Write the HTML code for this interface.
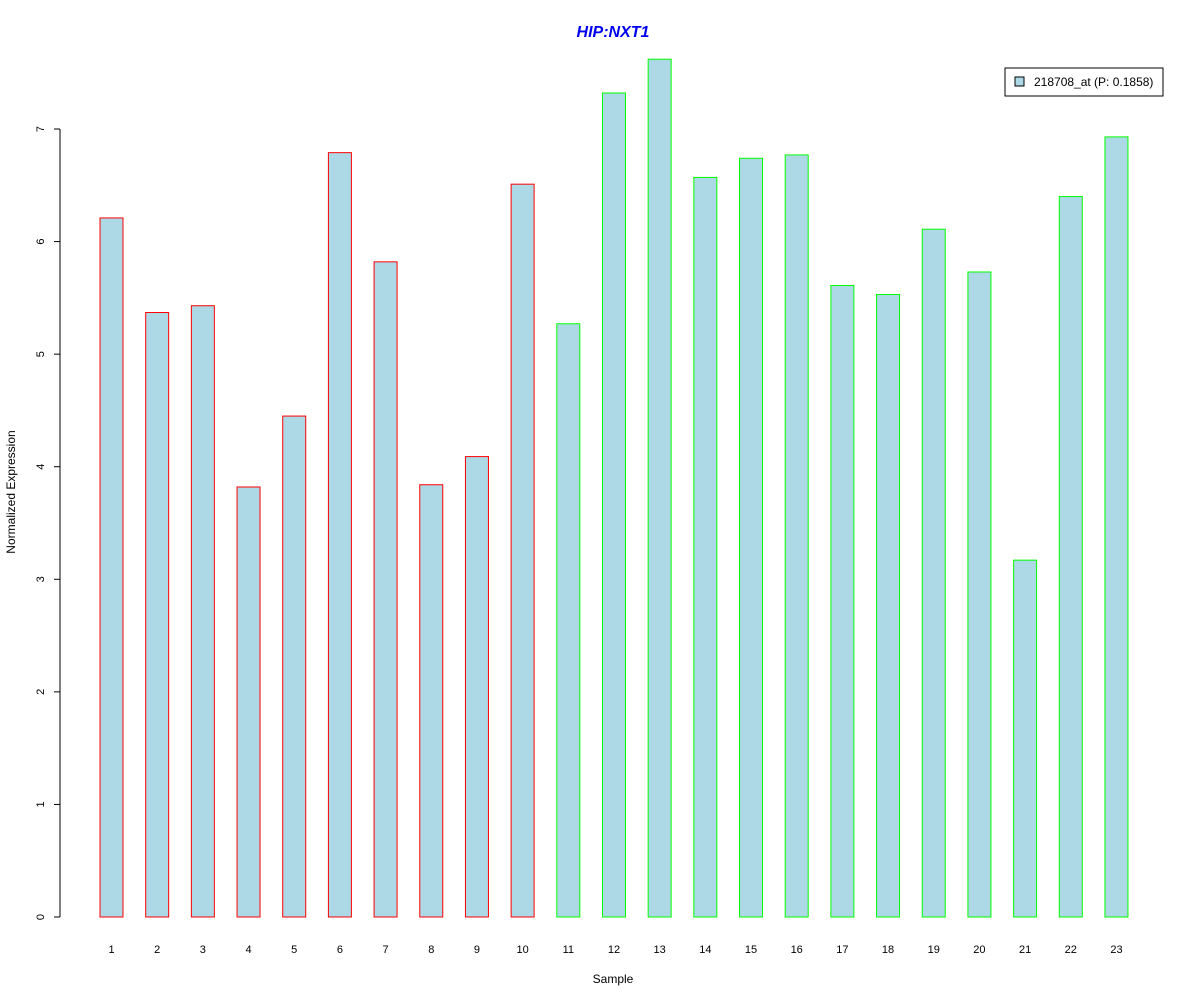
<!DOCTYPE html>
<html><head><meta charset="utf-8"><style>
body{margin:0;background:#fff;}
svg{display:block;font-family:"Liberation Sans",Arial,sans-serif;}
</style></head><body>
<svg id="chart" width="1200" height="1000" viewBox="0 0 1200 1000">
<rect width="1200" height="1000" fill="#fff"/>
<text x="613" y="37" text-anchor="middle" font-size="16" font-weight="bold" font-style="italic" fill="#0000ee">HIP:NXT1</text>
<text x="613" y="983" text-anchor="middle" font-size="12">Sample</text>
<text transform="translate(15,492) rotate(-90)" text-anchor="middle" font-size="12">Normalized Expression</text>
<g id="yaxis"></g>
<g id="bars"></g>
<g id="xlabels"></g>
<g>
<rect x="1005" y="68" width="158" height="28" fill="#fff" stroke="#000" stroke-width="1"/>
<rect x="1015" y="77" width="9" height="9" fill="#add8e6" stroke="#000" stroke-width="1"/>
<text x="1034" y="86" font-size="12">218708_at (P: 0.1858)</text>
</g>
</svg>
<script>
const categories=["1","2","3","4","5","6","7","8","9","10","11","12","13","14","15","16","17","18","19","20","21","22","23"];
const values=[6.21,5.37,5.43,3.82,4.45,6.79,5.82,3.84,4.09,6.51,5.27,7.32,7.62,6.57,6.74,6.77,5.61,5.53,6.11,5.73,3.17,6.40,6.93];
const groups=["r","r","r","r","r","r","r","r","r","r","g","g","g","g","g","g","g","g","g","g","g","g","g"];
const yTicks=[0,1,2,3,4,5,6,7];
const NS="http://www.w3.org/2000/svg";
function y(v){return 917-v*112.57;}
function x(i){return 111.5+i*45.68;}
const ya=document.getElementById('yaxis');
function mk(tag,attrs,parent){const e=document.createElementNS(NS,tag);for(const k in attrs)e.setAttribute(k,attrs[k]);parent.appendChild(e);return e;}
mk('line',{x1:60,x2:60,y1:y(0),y2:y(7),stroke:'#000'},ya);
yTicks.forEach(t=>{
 const l=mk('line',{x1:54,x2:60,y1:y(t),y2:y(t),stroke:'#000'},ya);
 
 
 const tx=mk('text',{transform:`translate(44,${y(t)}) rotate(-90)`,'text-anchor':'middle','font-size':11},ya);
 tx.textContent=t;
 
 
});
const bg=document.getElementById('bars'), xl=document.getElementById('xlabels');
values.forEach((v,i)=>{
 const r=mk('rect',{x:x(i)-11.5,y:y(v),width:23,height:y(0)-y(v),fill:'#add8e6',stroke:groups[i]==='r'?'#ff0000':'#00ff00','stroke-width':1},bg);
 
 
 const t=mk('text',{x:x(i),y:953,'text-anchor':'middle','font-size':11},xl);
 t.textContent=categories[i];
 
 
});
</script>
</body></html>
